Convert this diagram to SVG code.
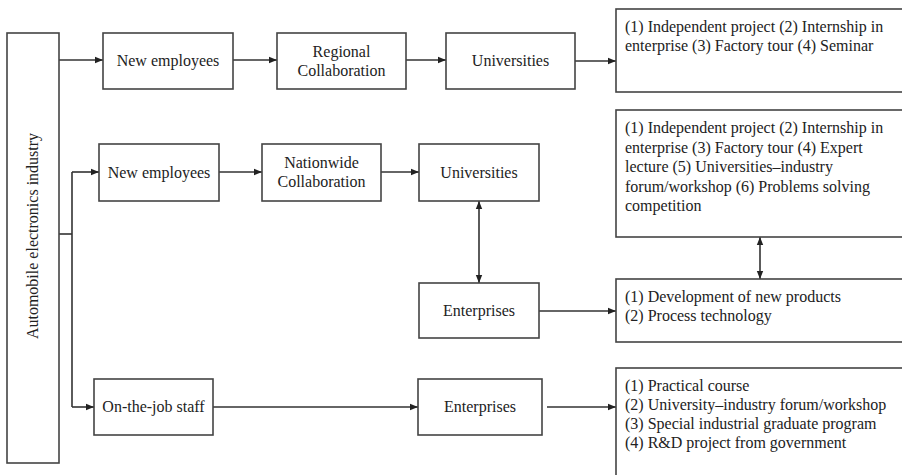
<svg xmlns="http://www.w3.org/2000/svg" width="902" height="475" viewBox="0 0 902 475">
<style>
.b{fill:#fff;stroke:#444;stroke-width:1.6}
.t{font-family:"Liberation Serif","Times New Roman",serif;font-size:16px;fill:#222}
.c{text-anchor:middle}
.l{fill:none;stroke:#333;stroke-width:1.6}
</style>
<defs>
<marker id="a" viewBox="0 0 10 10" refX="10" refY="5" markerWidth="8" markerHeight="8" markerUnits="userSpaceOnUse" orient="auto-start-reverse">
<path d="M0,1 L10,5 L0,9 z" fill="#222"/>
</marker>
</defs>
<rect width="902" height="475" fill="#fff"/>
<g id="connectors">
<path class="l" d="M59,60 H103" marker-end="url(#a)"/>
<path class="l" d="M233,60 H277" marker-end="url(#a)"/>
<path class="l" d="M406,60 H446" marker-end="url(#a)"/>
<path class="l" d="M575,61 H616" marker-end="url(#a)"/>
<path class="l" d="M59,234 H72"/>
<path class="l" d="M72,172 V407"/>
<path class="l" d="M72,172 H99" marker-end="url(#a)"/>
<path class="l" d="M72,407 H94" marker-end="url(#a)"/>
<path class="l" d="M219,172 H262" marker-end="url(#a)"/>
<path class="l" d="M381,172 H419" marker-end="url(#a)"/>
<path class="l" d="M479,201 V283" marker-start="url(#a)" marker-end="url(#a)"/>
<path class="l" d="M539,311 H616" marker-end="url(#a)"/>
<path class="l" d="M760,237 V279" marker-start="url(#a)" marker-end="url(#a)"/>
<path class="l" d="M213,407 H418" marker-end="url(#a)"/>
<path class="l" d="M547,407 H616" marker-end="url(#a)"/>
</g>
<g id="industry">
<rect class="b" x="7" y="33" width="52" height="430"/>
<text class="t c" transform="translate(38,236) rotate(-90)">Automobile electronics industry</text>
</g>
<g id="new1">
<rect class="b" x="103" y="33" width="130" height="56"/>
<text class="t c" x="168" y="66">New employees</text>
</g>
<g id="regional">
<rect class="b" x="277" y="33" width="129" height="56"/>
<text class="t c" x="341.5" y="57">Regional</text>
<text class="t c" x="341.5" y="76">Collaboration</text>
</g>
<g id="univ1">
<rect class="b" x="446" y="33" width="129" height="56"/>
<text class="t c" x="510.5" y="66">Universities</text>
</g>
<g id="box1">
<rect class="b" x="616" y="9" width="300" height="83"/>
<text class="t" x="625" y="32">(1) Independent project (2) Internship in</text>
<text class="t" x="625" y="51">enterprise (3) Factory tour (4) Seminar</text>
</g>
<g id="new2">
<rect class="b" x="99" y="144" width="120" height="57"/>
<text class="t c" x="159" y="178">New employees</text>
</g>
<g id="nationwide">
<rect class="b" x="262" y="144" width="119" height="57"/>
<text class="t c" x="321.5" y="168">Nationwide</text>
<text class="t c" x="321.5" y="187">Collaboration</text>
</g>
<g id="univ2">
<rect class="b" x="419" y="144" width="120" height="57"/>
<text class="t c" x="479" y="178">Universities</text>
</g>
<g id="box2">
<rect class="b" x="616" y="110" width="300" height="127"/>
<text class="t" x="625" y="133">(1) Independent project (2) Internship in</text>
<text class="t" x="625" y="153">enterprise (3) Factory tour (4) Expert</text>
<text class="t" x="625" y="172">lecture (5) Universities–industry</text>
<text class="t" x="625" y="192">forum/workshop (6) Problems solving</text>
<text class="t" x="625" y="211">competition</text>
</g>
<g id="ent1">
<rect class="b" x="419" y="283" width="120" height="55"/>
<text class="t c" x="479" y="316">Enterprises</text>
</g>
<g id="box3">
<rect class="b" x="616" y="279" width="300" height="63"/>
<text class="t" x="625" y="302">(1) Development of new products</text>
<text class="t" x="625" y="321">(2) Process technology</text>
</g>
<g id="onjob">
<rect class="b" x="94" y="379" width="119" height="56"/>
<text class="t c" x="153.5" y="412">On-the-job staff</text>
</g>
<g id="ent2">
<rect class="b" x="418" y="379" width="124" height="56"/>
<text class="t c" x="480" y="412">Enterprises</text>
</g>
<g id="box4">
<rect class="b" x="616" y="368" width="300" height="120"/>
<text class="t" x="625" y="391">(1) Practical course</text>
<text class="t" x="625" y="410">(2) University–industry forum/workshop</text>
<text class="t" x="625" y="429">(3) Special industrial graduate program</text>
<text class="t" x="625" y="448">(4) R&amp;D project from government</text>
</g>
</svg>
